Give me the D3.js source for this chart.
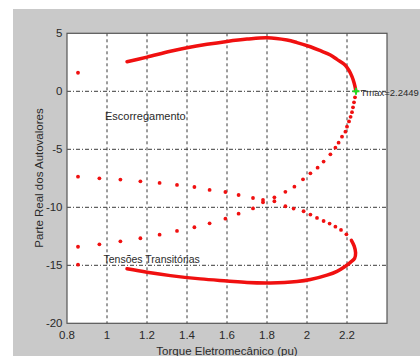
<!DOCTYPE html>
<html>
<head>
<meta charset="utf-8">
<script src="https://cdn.jsdelivr.net/npm/d3@7"></script>
<style>
  body { margin: 0; background: #fff; }
  svg { display: block; font-family: "Liberation Sans", Arial, sans-serif; }
</style>
</head>
<body>
<div id="chart"></div>
<script>
// tick values
const xTicks = [0.8, 1, 1.2, 1.4, 1.6, 1.8, 2, 2.2];
const yTicks = [5, 0, -5, -10, -15, -20];

// solid upper branch (dense points), from Tmax back to the left
const upperT = [2.245, 2.236, 2.225, 2.21, 2.19, 2.15, 2.117, 2.067, 2.017, 1.95, 1.9, 1.8, 1.7, 1.6, 1.5, 1.4, 1.317, 1.2, 1.1];
const upperRe = [0, 0.7, 1.26, 1.8, 2.27, 2.75, 3.13, 3.5, 3.84, 4.2, 4.42, 4.62, 4.5, 4.3, 4.05, 3.75, 3.45, 2.95, 2.55];

// solid lower branch
const lowerT = [2.222, 2.236, 2.243, 2.238, 2.217, 2.19, 2.15, 2.1, 2.017, 1.95, 1.817, 1.7, 1.6, 1.467, 1.317, 1.2, 1.1];
const lowerRe = [-12.85, -13.35, -13.93, -14.4, -14.75, -15.1, -15.52, -15.85, -16.23, -16.4, -16.52, -16.48, -16.35, -16.17, -15.89, -15.6, -15.3];

// sparse points rising from lower left up to Tmax
const riseT = [0.855, 0.962, 1.067, 1.167, 1.263, 1.35, 1.437, 1.513, 1.592, 1.658, 1.73, 1.78, 1.837, 1.892, 1.937, 1.98, 2.017, 2.053, 2.083, 2.117, 2.142, 2.158, 2.175, 2.192, 2.2, 2.21, 2.218, 2.225, 2.23, 2.235, 2.24];
const riseRe = [-13.4, -13.19, -12.93, -12.67, -12.36, -12.04, -11.72, -11.38, -10.98, -10.55, -10.1, -9.57, -9.14, -8.67, -8.22, -7.59, -7.07, -6.58, -6.06, -5.43, -4.86, -4.43, -3.91, -3.48, -3.05, -2.6, -2.2, -1.8, -1.38, -0.95, -0.52];

// sparse points falling from upper left down to the lower branch
const fallT = [0.855, 0.962, 1.067, 1.167, 1.263, 1.35, 1.437, 1.513, 1.592, 1.658, 1.73, 1.78, 1.837, 1.892, 1.933, 1.983, 2.017, 2.05, 2.083, 2.113, 2.142, 2.17, 2.197];
const fallRe = [-7.36, -7.5, -7.61, -7.76, -7.9, -8.07, -8.25, -8.5, -8.68, -8.94, -9.2, -9.37, -9.48, -9.91, -10.11, -10.34, -10.63, -10.92, -11.18, -11.4, -11.67, -11.95, -12.33];

// isolated points
const loneT = [0.855, 0.855];
const loneRe = [1.6, -14.95];

const tMax = 2.2449;

const width = 420, height = 356;
const plot = { left: 67, right: 387, top: 33.3, bottom: 323.3 };

const svg = d3.select("#chart").append("svg")
  .attr("width", width)
  .attr("height", height);

// figure background
svg.append("rect")
  .attr("x", 13).attr("y", 9)
  .attr("width", width - 13).attr("height", height - 9)
  .attr("fill", "#c9c9c9");

const x = d3.scaleLinear().domain([0.8, 2.4]).range([plot.left, plot.right]);
const y = d3.scaleLinear().domain([-20, 5]).range([plot.bottom, plot.top]);

svg.append("rect")
  .attr("x", plot.left).attr("y", plot.top)
  .attr("width", plot.right - plot.left).attr("height", plot.bottom - plot.top)
  .attr("fill", "#fff");

// grid
const gridColor = "#3a3a3a";
xTicks.slice(1).forEach(t => {
  svg.append("line")
    .attr("x1", x(t)).attr("x2", x(t))
    .attr("y1", plot.top).attr("y2", plot.bottom)
    .attr("stroke", gridColor)
    .attr("stroke-width", 1)
    .attr("stroke-dasharray", "3,3");
});
yTicks.slice(1, -1).forEach(t => {
  svg.append("line")
    .attr("x1", plot.left).attr("x2", plot.right)
    .attr("y1", y(t)).attr("y2", y(t))
    .attr("stroke", gridColor)
    .attr("stroke-width", 1)
    .attr("stroke-dasharray", "4,2,1,2");
});

const red = "#f01010";
const zip = (a, b) => a.map((v, i) => [v, b[i]]);

const line = d3.line()
  .x(d => x(d[0]))
  .y(d => y(d[1]))
  .curve(d3.curveCatmullRom);

svg.append("path")
  .datum(zip(upperT, upperRe))
  .attr("d", line)
  .attr("fill", "none")
  .attr("stroke", red)
  .attr("stroke-width", 3.5)
  .attr("stroke-linecap", "round");

svg.append("path")
  .datum(zip(lowerT, lowerRe))
  .attr("d", line)
  .attr("fill", "none")
  .attr("stroke", red)
  .attr("stroke-width", 3.5)
  .attr("stroke-linecap", "round");

const dots = zip(riseT, riseRe).concat(zip(fallT, fallRe), zip(loneT, loneRe));
svg.selectAll(".pt")
  .data(dots)
  .enter()
  .append("circle")
  .attr("class", "pt")
  .attr("cx", d => x(d[0]))
  .attr("cy", d => y(d[1]))
  .attr("r", 1.9)
  .attr("fill", red);

// Tmax marker
const mx = x(tMax), my = y(0);
svg.append("path")
  .attr("d", `M${mx - 3.5},${my}H${mx + 3.5}M${mx},${my - 3.5}V${my + 3.5}`)
  .attr("stroke", "#22dd22")
  .attr("stroke-width", 2);

// axes box
svg.append("rect")
  .attr("x", plot.left).attr("y", plot.top)
  .attr("width", plot.right - plot.left).attr("height", plot.bottom - plot.top)
  .attr("fill", "none")
  .attr("stroke", "#555")
  .attr("stroke-width", 1.2);

const textColor = "#2a2a2a";

// tick labels
svg.selectAll(".xt")
  .data(xTicks)
  .enter()
  .append("text")
  .attr("x", d => x(d))
  .attr("y", 339)
  .attr("text-anchor", "middle")
  .attr("font-size", 11.5)
  .attr("fill", textColor)
  .text(d => d3.format("~g")(d));

svg.selectAll(".yt")
  .data(yTicks)
  .enter()
  .append("text")
  .attr("x", 62.5)
  .attr("y", d => y(d) + 4)
  .attr("text-anchor", "end")
  .attr("font-size", 11.5)
  .attr("fill", textColor)
  .text(d => d);

// axis titles
svg.append("text")
  .attr("transform", `translate(43,178) rotate(-90)`)
  .attr("text-anchor", "middle")
  .attr("font-size", 11.5)
  .attr("fill", textColor)
  .text("Parte Real dos Autovalores");

svg.append("text")
  .attr("x", 227)
  .attr("y", 355)
  .attr("text-anchor", "middle")
  .attr("font-size", 11.5)
  .attr("fill", textColor)
  .text("Torque Eletromecânico (pu)");

// annotations
svg.append("text")
  .attr("x", 105)
  .attr("y", 120)
  .attr("font-size", 11)
  .attr("fill", textColor)
  .text("Escorregamento");

svg.append("text")
  .attr("x", 103.5)
  .attr("y", 263)
  .attr("font-size", 10.5)
  .attr("fill", textColor)
  .text("Tensões Transitórias");

svg.append("text")
  .attr("x", 360.5)
  .attr("y", 95.5)
  .attr("font-size", 9.5)
  .attr("fill", textColor)
  .text("Tmax=" + tMax);
</script>
</body>
</html>
